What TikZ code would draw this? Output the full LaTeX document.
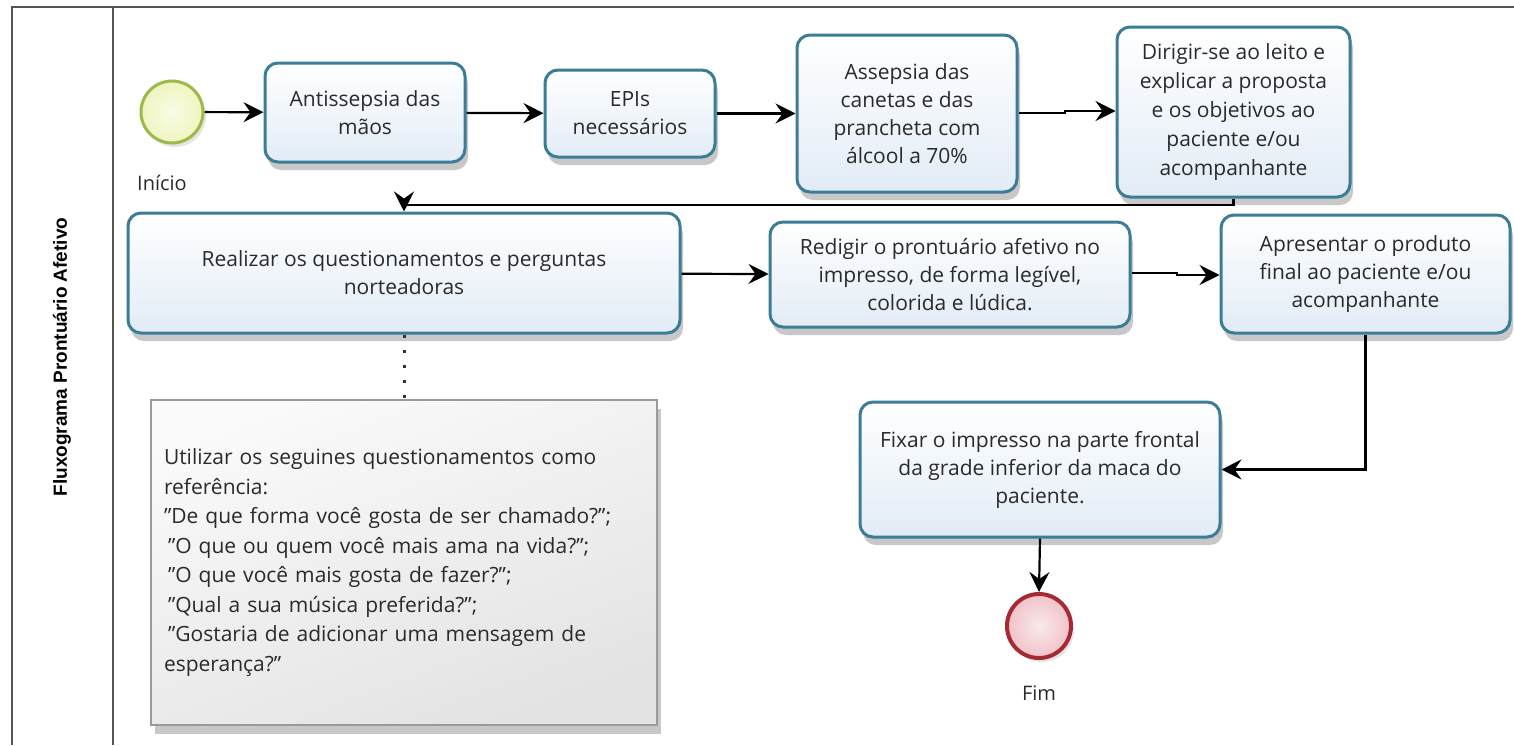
\documentclass[tikz,border=0pt]{standalone}
\usepackage{fontspec}
\setmainfont{Open Sans}
\newfontfamily\lanefont{Liberation Sans}
\usetikzlibrary{arrows.meta,shadows}
\definecolor{boxline}{HTML}{3B7C96}
\definecolor{boxfill}{HTML}{E2ECF6}
\definecolor{startline}{HTML}{9DB94A}
\definecolor{startfill}{HTML}{EEF5BE}
\definecolor{endline}{HTML}{A52A34}
\definecolor{endfill}{HTML}{F0C2C8}
\definecolor{framecol}{HTML}{555555}
\definecolor{noteline}{HTML}{9A9A9A}
\definecolor{txt}{HTML}{2A2A2A}
\begin{document}
\begin{tikzpicture}[x=1pt,y=-1pt,
  task/.style={draw=boxline, line width=3pt, rounded corners=13pt,
    top color=white, bottom color=boxfill, align=center, text=txt,
    font=\fontsize{21}{28}\selectfont, inner sep=0pt,
    drop shadow={opacity=0.3, fill=black!70, shadow xshift=3pt, shadow yshift=-8pt}},
  startev/.style={circle, draw=startline, line width=3pt, minimum size=62pt,
    inner color=startfill!35!white, outer color=startfill,
    drop shadow={opacity=0.2, shadow xshift=3pt, shadow yshift=-4pt}},
  endev/.style={circle, draw=endline, line width=4pt, minimum size=62pt,
    inner color=endfill!35!white, outer color=endfill,
    drop shadow={opacity=0.2, shadow xshift=3pt, shadow yshift=-4pt}},
  note/.style={draw=noteline, line width=1.5pt, top color=white!98!black,
    bottom color=black!11, shading angle=20, align=left, text=txt,
    text width=480pt, minimum width=506pt, minimum height=325pt, inner sep=0pt,
    font=\fontsize{21}{29.5}\selectfont,
    drop shadow={opacity=0.3, fill=black!70, shadow xshift=4pt, shadow yshift=-9pt}},
  evlabel/.style={text=txt, font=\fontsize{20}{24}\selectfont},
  arr/.style={-{Stealth[length=20pt,width=20pt,inset=7pt]}, line width=2.2pt, black},
  dotline/.style={line width=3pt, dash pattern=on 3pt off 12pt, black!80},
  framel/.style={draw=framecol, line width=2pt}
]
\useasboundingbox (0,0) rectangle (1514,745);
\fill[white] (0,0) rectangle (1514,745);

% lane frame
\draw[framel] (12,745) -- (12,7) -- (1514,7);
\draw[framel] (113,7) -- (113,745);
\node[rotate=90, font=\lanefont\bfseries\fontsize{19}{22}\selectfont] (lane) at (62,357) {Fluxograma Prontuário Afetivo};

% events
\node[startev] (start) at (172,112) {};
\node[evlabel] (lstart) at (162,183) {Início};
\node[endev, minimum size=64pt] (end) at (1039,626) {};
\node[evlabel] (lend) at (1039,693) {Fim};

% tasks
\node[task, minimum width=200pt, minimum height=99pt] (b1) at (365,112.5) {Antissepsia das\\mãos};
\node[task, minimum width=170pt, minimum height=87pt] (b2) at (630,113.5) {EPIs\\necessários};
\node[task, minimum width=220pt, minimum height=157pt] (b3) at (907,113.5) {Assepsia das\\canetas e das\\prancheta com\\álcool a 70\%};
\node[task, minimum width=233pt, minimum height=170pt, font=\fontsize{21}{29}\selectfont] (b4) at (1233.5,112) {Dirigir-se ao leito e\\explicar a proposta\\e os objetivos ao\\paciente e/ou\\acompanhante};
\node[task, minimum width=552pt, minimum height=120pt] (b5) at (404,273) {Realizar os questionamentos e perguntas\\norteadoras};
\node[task, minimum width=360pt, minimum height=105pt] (b6) at (950,274.5) {Redigir o prontuário afetivo no\\impresso, de forma legível,\\colorida e lúdica.};
\node[task, minimum width=289pt, minimum height=118pt] (b7) at (1365.5,274) {Apresentar o produto\\final ao paciente e/ou\\acompanhante};
\node[task, minimum width=360pt, minimum height=135pt] (b8) at (1040,469.5) {Fixar o impresso na parte frontal\\da grade inferior da maca do\\paciente.};

% annotation
\node[note] (nt) at (404,562.5) {Utilizar os seguines questionamentos como\\referência:\\"De que forma você gosta de ser chamado?";\\\hspace*{4pt}"O que ou quem você mais ama na vida?";\\\hspace*{4pt}"O que você mais gosta de fazer?";\\\hspace*{4pt}"Qual a sua música preferida?";\\\hspace*{4pt}"Gostaria de adicionar uma mensagem de\\esperança?"};

% connectors
\coordinate (j1) at (404,205);
\coordinate (k1) at (1065,113);
\coordinate (k2) at (1177,273);
\draw[arr] (start) -- (b1);
\draw[arr] (b1) -- (b2);
\draw[arr] (b2) -- (b3);
\draw[arr] (b3.east |- k1) -- (k1) -- ++(0,-2) -- (b4.west |- 0,111);
\draw[arr] (b4.south) |- (j1) -- (b5.north);
\draw[arr] (b5) -- (b6);
\draw[arr] (b6.east |- k2) -- (k2) -- ++(0,2) -- (b7.west |- 0,275);
\draw[arr] (b7.south) |- (b8.east);
\draw[arr] (b8.south) -- (end.north);
\draw[dotline] (b5.south) -- (nt.north);
\end{tikzpicture}
\end{document}
